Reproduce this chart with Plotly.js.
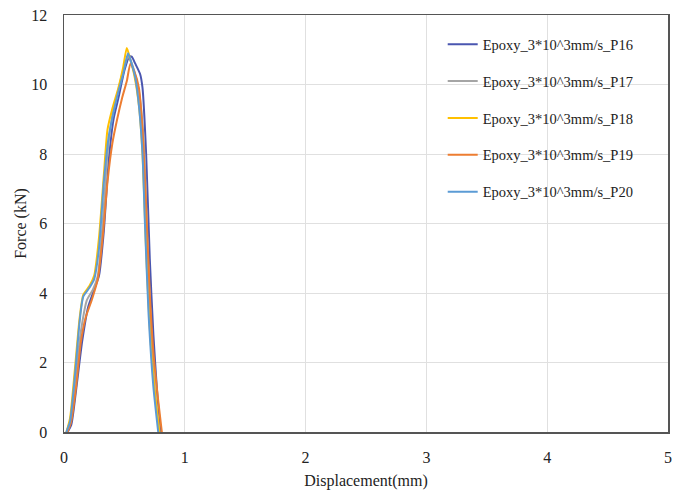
<!DOCTYPE html>
<html>
<head>
<meta charset="utf-8">
<script src="https://cdn.plot.ly/plotly-3.0.1.min.js"></script>
<style>html,body{margin:0;padding:0;background:#fff;}#chart{width:688px;height:498px;}</style>
</head>
<body>
<div id="chart"></div>
<script>
const seriesNames = ["Epoxy_3*10^3mm/s_P16","Epoxy_3*10^3mm/s_P17","Epoxy_3*10^3mm/s_P18","Epoxy_3*10^3mm/s_P19","Epoxy_3*10^3mm/s_P20"];
const seriesColors = ["#4a56b0","#a5a5a5","#ffc000","#ed7d31","#5b9bd5"];

const xP16 = [0.03,0.06,0.10,0.15,0.20,0.25,0.29,0.33,0.37,0.41,0.45,0.50,0.54,0.56,0.59,0.63,0.65,0.68,0.71,0.74,0.77,0.80];
const yP16 = [0,0.2,1.2,2.6,3.6,4.1,4.5,5.8,7.8,9.0,9.6,10.4,10.8,10.8,10.6,10.3,9.9,8.0,5.0,2.8,1.2,0];

const xP17 = [0.02,0.05,0.09,0.14,0.19,0.24,0.28,0.32,0.36,0.40,0.44,0.49,0.53,0.55,0.58,0.62,0.66,0.69,0.72,0.75,0.79];
const yP17 = [0,0.3,1.4,2.9,3.8,4.1,4.5,6.0,8.0,9.1,9.7,10.4,10.8,10.7,10.4,9.8,8.4,5.5,3.0,1.3,0];

const xP18 = [0.02,0.05,0.09,0.13,0.16,0.21,0.25,0.29,0.33,0.36,0.40,0.45,0.49,0.52,0.55,0.58,0.62,0.65,0.68,0.71,0.75,0.79];
const yP18 = [0,0.4,1.8,3.3,3.95,4.2,4.5,5.6,7.4,8.7,9.3,9.9,10.5,11.05,10.7,10.3,9.4,8.0,5.2,3.0,1.2,0];

const xP19 = [0.03,0.06,0.10,0.14,0.18,0.23,0.28,0.32,0.36,0.40,0.44,0.48,0.52,0.55,0.58,0.62,0.65,0.68,0.71,0.74,0.78,0.81];
const yP19 = [0,0.3,1.3,2.6,3.3,3.8,4.4,5.6,7.2,8.3,9.0,9.6,10.1,10.6,10.4,9.9,8.7,6.5,4.0,2.3,0.9,0];

const xP20 = [0.02,0.05,0.09,0.13,0.16,0.21,0.25,0.29,0.33,0.37,0.41,0.45,0.49,0.53,0.56,0.59,0.62,0.65,0.67,0.70,0.74,0.78];
const yP20 = [0,0.3,1.6,3.2,3.9,4.15,4.4,5.3,7.2,8.5,9.2,9.8,10.3,10.9,10.6,10.2,9.4,8.0,6.0,3.4,1.3,0];

const xs = [xP16,xP17,xP18,xP19,xP20];
const ys = [yP16,yP17,yP18,yP19,yP20];

const traces = seriesNames.map((n,i)=>({
  x: xs[i], y: ys[i], name: n, type: 'scatter', mode: 'lines',
  line: {color: seriesColors[i], width: 2, shape: 'spline', smoothing: 0.6},
  legendgroup: 'g'+i
}));

const font = {family: '"Liberation Serif","Times New Roman",serif', color: '#222'};

const layout = {
  width: 688, height: 498,
  margin: {l: 64, r: 20, t: 15, b: 66},
  paper_bgcolor: '#ffffff', plot_bgcolor: '#ffffff',
  font: Object.assign({size: 15}, font),
  showlegend: true,
  legend: {
    x: 0.627, y: 0.968, xanchor: 'left', yanchor: 'top',
    bgcolor: 'rgba(0,0,0,0)', borderwidth: 0,
    font: Object.assign({size: 14.5}, font),
    tracegroupgap: 15
  },
  xaxis: {
    range: [0, 5], dtick: 1, tick0: 0,
    showgrid: true, gridcolor: '#e0e0e0', gridwidth: 1,
    zeroline: false, showline: true, linecolor: '#555', linewidth: 1.5, mirror: true,
    ticks: '', ticklen: 0, ticklabelstandoff: 10,
    tickfont: Object.assign({size: 16}, font),
    title: {text: 'Displacement(mm)', font: Object.assign({size: 16}, font), standoff: 10}
  },
  yaxis: {
    range: [0, 12], dtick: 2, tick0: 0,
    showgrid: true, gridcolor: '#e0e0e0', gridwidth: 1,
    zeroline: false, showline: true, linecolor: '#555', linewidth: 1.5, mirror: true,
    ticks: '', ticklen: 0, ticklabelstandoff: 12,
    tickfont: Object.assign({size: 16}, font),
    title: {text: 'Force (kN)', font: Object.assign({size: 16}, font), standoff: 0}
  }
};

Plotly.newPlot('chart', traces, layout, {displayModeBar: false, staticPlot: true});
</script>
</body>
</html>
